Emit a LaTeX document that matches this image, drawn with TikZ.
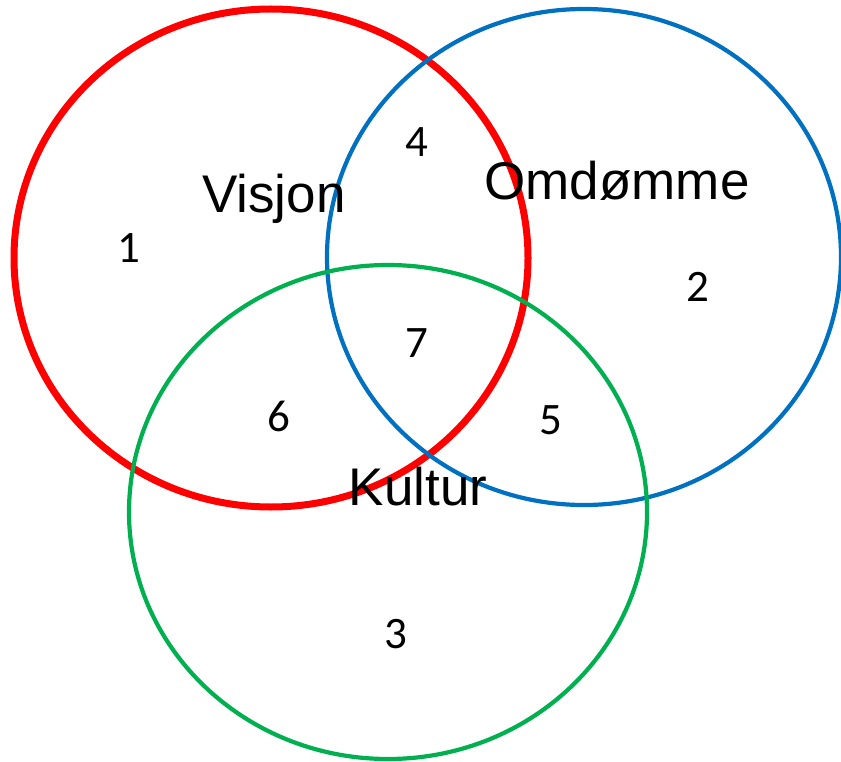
\documentclass[tikz,border=0pt]{standalone}
\usepackage{fontspec}
\setmainfont{Liberation Sans}
\newfontfamily\numfont{Carlito}
\definecolor{vred}{RGB}{255,0,0}
\definecolor{vblue}{RGB}{0,112,192}
\definecolor{vgreen}{RGB}{0,176,80}
\begin{document}
\begin{tikzpicture}[x=1pt,y=-1pt,
  lbl/.style={font=\fontsize{53}{60}\selectfont, inner sep=0pt},
  num/.style={font=\numfont\fontsize{45}{50}\selectfont, inner sep=0pt}]
\useasboundingbox (0,0) rectangle (841,762);
\draw[vred, line width=7] (271,258) ellipse [x radius=257, y radius=249];
\draw[vblue, line width=4.2] (584,257) ellipse [x radius=257, y radius=248];
\draw[vgreen, line width=4.2] (388,512) ellipse [x radius=259, y radius=247];
\node[lbl] (visjon) at (274,199) {Visjon};
\node[lbl] (omd) at (617,181) {Omdømme};
\node[lbl] (kultur) at (418,487) {Kultur};
\node[num] (n1) at (129,248) {1};
\node[num] (n2) at (698,287) {2};
\node[num] (n3) at (396,634) {3};
\node[num] (n4) at (417,142) {4};
\node[num] (n5) at (551,420) {5};
\node[num] (n6) at (279,416) {6};
\node[num] (n7) at (417,343) {7};
\end{tikzpicture}
\end{document}
